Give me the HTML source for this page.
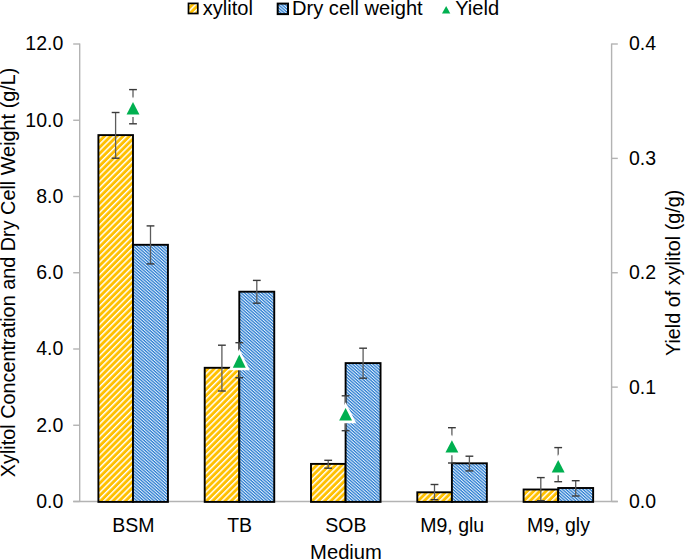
<!DOCTYPE html>
<html><head><meta charset="utf-8"><style>
html,body{margin:0;padding:0;background:#fff;}
body{width:685px;height:560px;overflow:hidden;position:relative;}
svg{position:absolute;left:0;top:0;}
text{font-family:"Liberation Sans",sans-serif;fill:#000;}
</style></head><body>
<svg width="685" height="560" viewBox="0 0 685 560">
<defs>
<pattern id="py" patternUnits="userSpaceOnUse" width="4.4" height="4.4" patternTransform="rotate(45)">
<rect width="4.4" height="4.4" fill="#ffc000"/><rect x="0" width="1.45" height="4.4" fill="#fff"/>
</pattern>
<pattern id="pb" patternUnits="userSpaceOnUse" width="2.27" height="2.27" patternTransform="rotate(-48.5)">
<rect width="2.27" height="2.27" fill="#2a7bd0"/><rect x="0" width="1.05" height="2.27" fill="#dcecf9"/>
</pattern>
</defs>

<g stroke="#b3b3b3" stroke-width="1.4" fill="none">
<line x1="79.7" y1="43.5" x2="79.7" y2="501.5"/>
<line x1="611.6" y1="43.5" x2="611.6" y2="501.5"/>
<line x1="73.2" y1="501.5" x2="617.8" y2="501.5"/>
<line x1="73.2" y1="44.00" x2="79.7" y2="44.00"/>
<line x1="73.2" y1="120.25" x2="79.7" y2="120.25"/>
<line x1="73.2" y1="196.50" x2="79.7" y2="196.50"/>
<line x1="73.2" y1="272.75" x2="79.7" y2="272.75"/>
<line x1="73.2" y1="349.00" x2="79.7" y2="349.00"/>
<line x1="73.2" y1="425.25" x2="79.7" y2="425.25"/>
<line x1="73.2" y1="501.50" x2="79.7" y2="501.50"/>
<line x1="611.6" y1="44.00" x2="617.8" y2="44.00"/>
<line x1="611.6" y1="158.38" x2="617.8" y2="158.38"/>
<line x1="611.6" y1="272.75" x2="617.8" y2="272.75"/>
<line x1="611.6" y1="387.12" x2="617.8" y2="387.12"/>
<line x1="611.6" y1="501.50" x2="617.8" y2="501.50"/>
</g>
<g font-size="19.5">
<text x="63.3" y="50.30" text-anchor="end">12.0</text>
<text x="63.3" y="126.55" text-anchor="end">10.0</text>
<text x="63.3" y="202.80" text-anchor="end">8.0</text>
<text x="63.3" y="279.05" text-anchor="end">6.0</text>
<text x="63.3" y="355.30" text-anchor="end">4.0</text>
<text x="63.3" y="431.55" text-anchor="end">2.0</text>
<text x="63.3" y="507.80" text-anchor="end">0.0</text>
<text x="629" y="50.40">0.4</text>
<text x="629" y="164.78">0.3</text>
<text x="629" y="279.15">0.2</text>
<text x="629" y="393.52">0.1</text>
<text x="629" y="507.90">0.0</text>
<text x="133.30" y="532.2" text-anchor="middle">BSM</text>
<text x="239.60" y="532.2" text-anchor="middle">TB</text>
<text x="345.90" y="532.2" text-anchor="middle">SOB</text>
<text x="452.20" y="532.2" text-anchor="middle">M9, glu</text>
<text x="558.50" y="532.2" text-anchor="middle">M9, gly</text>
<text x="346" y="559.2" text-anchor="middle" font-size="20.2">Medium</text>
<text transform="translate(14.7 272.4) rotate(-90)" text-anchor="middle" font-size="19.83">Xylitol Concentration and Dry Cell Weight (g/L)</text>
<text transform="translate(679.6 272.85) rotate(-90)" text-anchor="middle" font-size="19.8">Yield of xylitol (g/g)</text>
<g font-size="20.1">
<text x="202.7" y="15.2">xylitol</text>
<text x="292.0" y="15.2">Dry cell weight</text>
<text x="455.2" y="15.2">Yield</text>
</g>
</g>
<rect x="188.5" y="3.4" width="9.3" height="10.1" fill="url(#py)" stroke="#000" stroke-width="1.7"/>
<rect x="277.7" y="3.6" width="10.3" height="10.5" fill="url(#pb)" stroke="#000" stroke-width="2"/>
<polygon points="442,13.5 450.3,13.5 446.15,6.1" fill="#00b050"/>
<rect x="98.40" y="135.10" width="34.60" height="366.80" fill="url(#py)" stroke="#000" stroke-width="1.9"/>
<rect x="133.00" y="244.80" width="34.95" height="257.10" fill="url(#pb)" stroke="#000" stroke-width="1.9"/>
<rect x="204.70" y="367.80" width="34.60" height="134.10" fill="url(#py)" stroke="#000" stroke-width="1.9"/>
<rect x="239.30" y="291.70" width="34.95" height="210.20" fill="url(#pb)" stroke="#000" stroke-width="1.9"/>
<rect x="311.00" y="463.90" width="34.60" height="38.00" fill="url(#py)" stroke="#000" stroke-width="1.9"/>
<rect x="345.60" y="363.10" width="34.95" height="138.80" fill="url(#pb)" stroke="#000" stroke-width="1.9"/>
<rect x="417.30" y="492.30" width="34.60" height="9.60" fill="url(#py)" stroke="#000" stroke-width="1.9"/>
<rect x="451.90" y="463.30" width="34.95" height="38.60" fill="url(#pb)" stroke="#000" stroke-width="1.9"/>
<rect x="523.60" y="489.50" width="34.60" height="12.40" fill="url(#py)" stroke="#000" stroke-width="1.9"/>
<rect x="558.20" y="488.00" width="34.95" height="13.90" fill="url(#pb)" stroke="#000" stroke-width="1.9"/>
<g stroke="#3a3a3a" stroke-width="1.4">
<line x1="115.60" y1="112.50" x2="115.60" y2="158.20" stroke="#5c5c5c" stroke-width="1.3"/><line x1="111.70" y1="112.50" x2="119.50" y2="112.50"/><line x1="111.70" y1="158.20" x2="119.50" y2="158.20"/>
<line x1="150.50" y1="225.90" x2="150.50" y2="263.90" stroke="#5c5c5c" stroke-width="1.3"/><line x1="146.60" y1="225.90" x2="154.40" y2="225.90"/><line x1="146.60" y1="263.90" x2="154.40" y2="263.90"/>
<line x1="133.00" y1="89.60" x2="133.00" y2="123.80" stroke="#5c5c5c" stroke-width="1.3"/><line x1="129.10" y1="89.60" x2="136.90" y2="89.60"/><line x1="129.10" y1="123.80" x2="136.90" y2="123.80"/>
<line x1="221.90" y1="345.20" x2="221.90" y2="391.00" stroke="#5c5c5c" stroke-width="1.3"/><line x1="218.00" y1="345.20" x2="225.80" y2="345.20"/><line x1="218.00" y1="391.00" x2="225.80" y2="391.00"/>
<line x1="256.80" y1="280.40" x2="256.80" y2="303.20" stroke="#5c5c5c" stroke-width="1.3"/><line x1="252.90" y1="280.40" x2="260.70" y2="280.40"/><line x1="252.90" y1="303.20" x2="260.70" y2="303.20"/>
<line x1="239.30" y1="342.70" x2="239.30" y2="377.70" stroke="#5c5c5c" stroke-width="1.3"/><line x1="235.40" y1="342.70" x2="243.20" y2="342.70"/><line x1="235.40" y1="377.70" x2="243.20" y2="377.70"/>
<line x1="328.20" y1="460.30" x2="328.20" y2="468.20" stroke="#5c5c5c" stroke-width="1.3"/><line x1="324.30" y1="460.30" x2="332.10" y2="460.30"/><line x1="324.30" y1="468.20" x2="332.10" y2="468.20"/>
<line x1="363.10" y1="348.20" x2="363.10" y2="378.20" stroke="#5c5c5c" stroke-width="1.3"/><line x1="359.20" y1="348.20" x2="367.00" y2="348.20"/><line x1="359.20" y1="378.20" x2="367.00" y2="378.20"/>
<line x1="345.60" y1="395.80" x2="345.60" y2="430.70" stroke="#5c5c5c" stroke-width="1.3"/><line x1="341.70" y1="395.80" x2="349.50" y2="395.80"/><line x1="341.70" y1="430.70" x2="349.50" y2="430.70"/>
<line x1="434.50" y1="484.50" x2="434.50" y2="499.70" stroke="#5c5c5c" stroke-width="1.3"/><line x1="430.60" y1="484.50" x2="438.40" y2="484.50"/><line x1="430.60" y1="499.70" x2="438.40" y2="499.70"/>
<line x1="469.40" y1="456.20" x2="469.40" y2="470.90" stroke="#5c5c5c" stroke-width="1.3"/><line x1="465.50" y1="456.20" x2="473.30" y2="456.20"/><line x1="465.50" y1="470.90" x2="473.30" y2="470.90"/>
<line x1="451.90" y1="427.70" x2="451.90" y2="463.00" stroke="#5c5c5c" stroke-width="1.3"/><line x1="448.00" y1="427.70" x2="455.80" y2="427.70"/><line x1="448.00" y1="463.00" x2="455.80" y2="463.00"/>
<line x1="540.80" y1="477.60" x2="540.80" y2="500.70" stroke="#5c5c5c" stroke-width="1.3"/><line x1="536.90" y1="477.60" x2="544.70" y2="477.60"/><line x1="536.90" y1="500.70" x2="544.70" y2="500.70"/>
<line x1="575.70" y1="480.70" x2="575.70" y2="496.00" stroke="#5c5c5c" stroke-width="1.3"/><line x1="571.80" y1="480.70" x2="579.60" y2="480.70"/><line x1="571.80" y1="496.00" x2="579.60" y2="496.00"/>
<line x1="558.20" y1="447.60" x2="558.20" y2="481.70" stroke="#5c5c5c" stroke-width="1.3"/><line x1="554.30" y1="447.60" x2="562.10" y2="447.60"/><line x1="554.30" y1="481.70" x2="562.10" y2="481.70"/>
</g>
<polygon points="126.55,114.40 139.45,114.40 133.00,102.05" fill="#00b050" stroke="#fff" stroke-width="5.2" stroke-linejoin="miter" paint-order="stroke"/>
<polygon points="232.85,367.70 245.75,367.70 239.30,354.55" fill="#00b050" stroke="#fff" stroke-width="5.2" stroke-linejoin="miter" paint-order="stroke"/>
<polygon points="339.15,420.60 352.05,420.60 345.60,407.95" fill="#00b050" stroke="#fff" stroke-width="5.2" stroke-linejoin="miter" paint-order="stroke"/>
<polygon points="445.45,452.60 458.35,452.60 451.90,440.15" fill="#00b050" stroke="#fff" stroke-width="5.2" stroke-linejoin="miter" paint-order="stroke"/>
<polygon points="551.75,472.60 564.65,472.60 558.20,460.05" fill="#00b050" stroke="#fff" stroke-width="5.2" stroke-linejoin="miter" paint-order="stroke"/>
</svg></body></html>
